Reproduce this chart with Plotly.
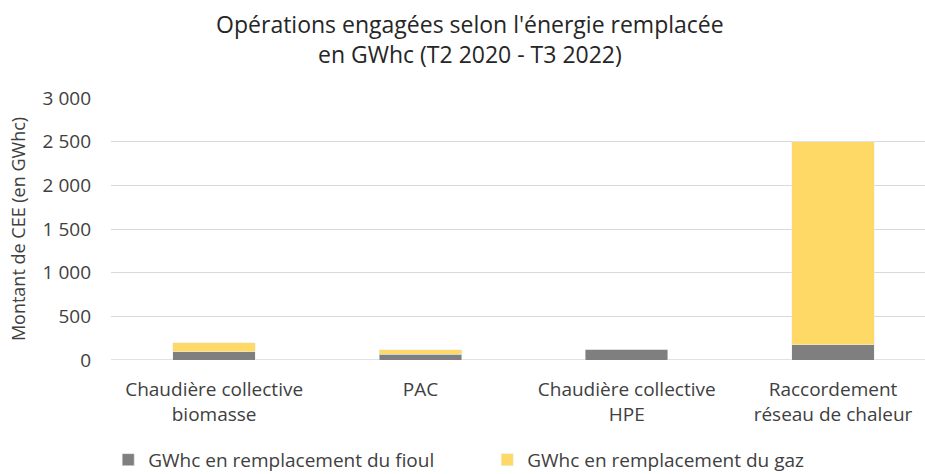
import plotly.graph_objects as go

categories = ["Chaudière collective<br>biomasse", "PAC", "Chaudière collective<br>HPE", "Raccordement<br>réseau de chaleur"]
fioul = [95, 65, 126, 175]
gaz = [100, 50, 0, 2325]
series_names = ["GWhc en remplacement du fioul", "GWhc en remplacement du gaz"]
tick_vals = [0, 500, 1000, 1500, 2000, 2500, 3000]
tick_text = ["0", "500", "1 000", "1 500", "2 000", "2 500", "3 000"]

FONT = "Open Sans, sans-serif"
idx = list(range(len(categories)))

fig = go.Figure()
fig.add_trace(go.Bar(x=idx, y=fioul, name=series_names[0], marker_color="#7f7f7f", width=0.4))
fig.add_trace(go.Bar(x=idx, y=gaz, name=series_names[1], marker_color="#ffd966", width=0.4))

fig.update_layout(
    barmode="stack",
    width=925, height=474,
    margin=dict(l=111, r=0, t=98, b=114, autoexpand=False),
    paper_bgcolor="white", plot_bgcolor="white",
    font=dict(family=FONT, color="#404040", size=19),
    title=dict(text="Opérations engagées selon l'énergie remplacée<br>en GWhc (T2 2020 - T3 2022)",
               x=0.508, xanchor="center", y=0.93, yanchor="middle",
               font=dict(size=23, color="#262626", family=FONT)),
    xaxis=dict(tickmode="array", tickvals=idx, ticktext=categories, range=[-0.5, 3.446],
               showgrid=False, zeroline=False, showline=False, ticks="",
               ticklabelstandoff=16,
               tickfont=dict(size=19, color="#404040")),
    yaxis=dict(range=[0, 3000], tickvals=tick_vals, ticktext=tick_text,
               showgrid=True, gridcolor="#d9d9d9", gridwidth=1.3, zeroline=False,
               ticks="", ticklabelstandoff=19,
               title=dict(text="Montant de CEE (en GWhc)", font=dict(size=18, color="#404040"), standoff=12),
               tickfont=dict(size=19, color="#404040")),
    legend=dict(orientation="h", xref="container", yref="container", x=0.117, y=0.03,
                xanchor="left", yanchor="middle", entrywidth=334, entrywidthmode="pixels",
                font=dict(size=19, color="#404040"), traceorder="normal", itemwidth=30),
    bargap=0.6,
)
fig.add_shape(type="line", xref="paper", yref="y", x0=0, x1=1, y0=0, y1=0,
              line=dict(color="#d9d9d9", width=1.3), layer="below")
fig.write_html("out.html", config={"displayModeBar": False},
               post_script="document.body.style.margin='0';")
